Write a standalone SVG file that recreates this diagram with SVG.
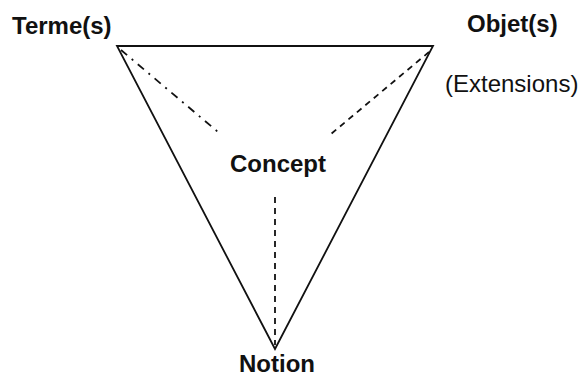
<svg xmlns="http://www.w3.org/2000/svg" width="584" height="376" viewBox="0 0 584 376">
<style>
.lbl{font-family:"Liberation Sans",Arial,sans-serif;font-size:24px;fill:#111;}
.b{font-weight:bold;}
.edge{stroke:#111;stroke-width:1.8;fill:none;}
.dash{stroke:#111;stroke-width:1.8;fill:none;stroke-dasharray:6,5;}
.dashdot{stroke:#111;stroke-width:1.8;fill:none;stroke-dasharray:8,6,2,6;}
</style>
<rect width="584" height="376" fill="#fff"/>
<g id="connectors">
<polygon class="edge" points="117,46 433,46 275,349"/>
<line class="dashdot" x1="121" y1="50" x2="218" y2="132"/>
<line class="dash" x1="429" y1="52" x2="331" y2="134"/>
<line class="dash" x1="275" y1="197" x2="275" y2="345"/>
</g>
<g id="termes"><text class="lbl b" x="12" y="34">Terme(s)</text></g>
<g id="objets"><text class="lbl b" x="467" y="32">Objet(s)</text>
<text class="lbl" x="445" y="92">(Extensions)</text></g>
<g id="concept"><text class="lbl b" x="230" y="172">Concept</text></g>
<g id="notion"><text class="lbl b" x="239" y="372">Notion</text></g>
</svg>
